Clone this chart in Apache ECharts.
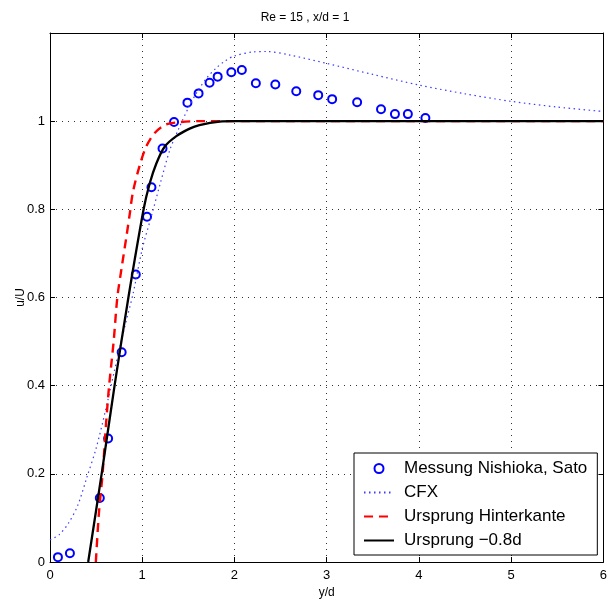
<!DOCTYPE html>
<html>
<head>
<meta charset="utf-8">
<script src="https://cdn.jsdelivr.net/npm/echarts@6/dist/echarts.min.js"></script>
<style>html,body{margin:0;padding:0;background:#fff;}#c{width:610px;height:605px;}</style>
</head>
<body>
<div id="c"></div>
<script>
const titleText = 'Re = 15 , x/d = 1';
const xName = 'y/d';
const yName = 'u/U';
const seriesNames = ['Messung Nishioka, Sato', 'CFX', 'Ursprung Hinterkante', 'Ursprung \u22120.8d'];
const xTicks = [0, 1, 2, 3, 4, 5, 6];
const yTicks = [0, 0.2, 0.4, 0.6, 0.8, 1];

// Messung Nishioka, Sato [y/d, u/U]
const messung = [
  [0.086, 0.011], [0.216, 0.020], [0.54, 0.145], [0.63, 0.280], [0.777, 0.476],
  [0.93, 0.652], [1.052, 0.783], [1.10, 0.850], [1.22, 0.938], [1.345, 0.998],
  [1.49, 1.042], [1.611, 1.063], [1.73, 1.087], [1.818, 1.101], [1.966, 1.111],
  [2.08, 1.116], [2.232, 1.086], [2.443, 1.083], [2.67, 1.068], [2.908, 1.059],
  [3.059, 1.050], [3.33, 1.043], [3.589, 1.027], [3.74, 1.016], [3.88, 1.016],
  [4.07, 1.007]
];

// CFX
const cfx = [
  [0, 0.05], [0.1, 0.062], [0.2, 0.088], [0.3, 0.128], [0.4, 0.192], [0.5, 0.258],
  [0.6, 0.342], [0.7, 0.435], [0.8, 0.525], [0.9, 0.608], [1.0, 0.71], [1.1, 0.785],
  [1.2, 0.862], [1.3, 0.935], [1.4, 0.985], [1.5, 1.03], [1.6, 1.068], [1.7, 1.098],
  [1.8, 1.12], [1.9, 1.137], [2.0, 1.148], [2.2, 1.157], [2.35, 1.158], [2.6, 1.15],
  [3.0, 1.131], [3.5, 1.106], [4.0, 1.082], [4.5, 1.062], [5.0, 1.045], [5.5, 1.032],
  [6.0, 1.022]
];

// Ursprung Hinterkante
const hinterkante = [
  [0.497, 0], [0.53, 0.11], [0.57, 0.2], [0.61, 0.32], [0.641, 0.4], [0.69, 0.5],
  [0.73, 0.6], [0.775, 0.665], [0.83, 0.74], [0.865, 0.79], [0.9, 0.84], [0.973, 0.9],
  [1.045, 0.943], [1.135, 0.973], [1.243, 0.991], [1.37, 0.997], [1.6, 1.0], [6.0, 1.0]
];

// Ursprung -0.8d
const ursprung08 = [
  [0.414, 0], [0.56, 0.2], [0.70, 0.4], [0.85, 0.6], [1.015, 0.8], [1.08, 0.858],
  [1.153, 0.904], [1.243, 0.942], [1.37, 0.966], [1.514, 0.983], [1.62, 0.991],
  [1.84, 0.999], [2.0, 1.0], [6.0, 1.0]
];

const FONT = "'Liberation Sans', Arial, Helvetica, sans-serif";
const chart = echarts.init(document.getElementById('c'), null, {renderer: 'canvas'});

const gridLine = {show: true, lineStyle: {color: '#333', width: 1, type: [1, 5]}};
const axisLine = {show: true, onZero: false, lineStyle: {color: '#000', width: 1}};
const tick = {show: true, inside: true, length: 5, lineStyle: {color: '#000', width: 1}};

chart.setOption({
  animation: false,
  backgroundColor: '#fff',
  title: {
    text: titleText, left: 'center', top: 7,
    textStyle: {fontFamily: FONT, fontSize: 12, fontWeight: 'normal', color: '#000'}
  },
  grid: {left: 50, right: 5, top: 33, bottom: 43, containLabel: false},
  legend: {
    orient: 'vertical', left: 354, top: 453,
    backgroundColor: '#fff', borderColor: '#000', borderWidth: 1,
    padding: [7, 10, 6, 9], itemWidth: 30, itemHeight: 9, itemGap: 7,
    textStyle: {fontFamily: FONT, fontSize: 17, color: '#000', padding: [0, 0, 0, 5]},
    data: [
      {name: seriesNames[0]},
      {name: seriesNames[1], itemStyle: {opacity: 0}},
      {name: seriesNames[2], itemStyle: {opacity: 0}},
      {name: seriesNames[3], itemStyle: {opacity: 0}}
    ]
  },
  xAxis: [
    {
      type: 'value', min: xTicks[0], max: xTicks[xTicks.length - 1], interval: 1, position: 'bottom',
      name: xName, nameLocation: 'middle', nameGap: 25, nameMoveOverlap: false,
      nameTextStyle: {fontFamily: FONT, fontSize: 12, color: '#000'},
      axisLine: axisLine, axisTick: tick, splitLine: gridLine,
      axisLabel: {margin: 7, fontFamily: FONT, fontSize: 13, color: '#000'}
    },
    {
      type: 'value', min: xTicks[0], max: xTicks[xTicks.length - 1], interval: 1, position: 'top',
      axisLine: axisLine, axisTick: tick, splitLine: {show: false}, axisLabel: {show: false}
    }
  ],
  yAxis: [
    {
      type: 'value', min: 0, max: 1.2, interval: 0.2, position: 'left',
      name: yName, nameLocation: 'middle', nameGap: 23, nameRotate: 90, nameMoveOverlap: false,
      nameTextStyle: {fontFamily: FONT, fontSize: 12, color: '#000'},
      axisLine: axisLine, axisTick: tick, splitLine: gridLine,
      axisLabel: {
        margin: 5, fontFamily: FONT, fontSize: 13, color: '#000',
        formatter: function (v) {
          const t = yTicks.find(function (k) { return Math.abs(k - v) < 1e-9; });
          return t === undefined ? '' : String(t);
        }
      }
    },
    {
      type: 'value', min: 0, max: 1.2, interval: 0.2, position: 'right',
      axisLine: axisLine, axisTick: tick, splitLine: {show: false}, axisLabel: {show: false}
    }
  ],
  series: [
    {
      name: seriesNames[0], type: 'scatter', data: messung,
      symbol: 'emptyCircle', symbolSize: 8,
      itemStyle: {color: '#0000ff', borderColor: '#0000ff', borderWidth: 2.5, opacity: 1},
      z: 2
    },
    {
      name: seriesNames[1], type: 'line', data: cfx, symbol: 'none', smooth: 0.3,
      itemStyle: {color: '#3c3cff'},
      lineStyle: {color: '#3c3cff', width: 1.2, type: [1.5, 3.5]},
      z: 3
    },
    {
      name: seriesNames[2], type: 'line', data: hinterkante, symbol: 'none', smooth: 0.3,
      itemStyle: {color: '#ff0000'},
      lineStyle: {color: '#ff0000', width: 2.4, type: [9, 6]},
      z: 4
    },
    {
      name: seriesNames[3], type: 'line', data: ursprung08, symbol: 'none', smooth: 0.3,
      itemStyle: {color: '#000'},
      lineStyle: {color: '#000', width: 2.3},
      z: 5
    }
  ]
});
</script>
</body>
</html>
